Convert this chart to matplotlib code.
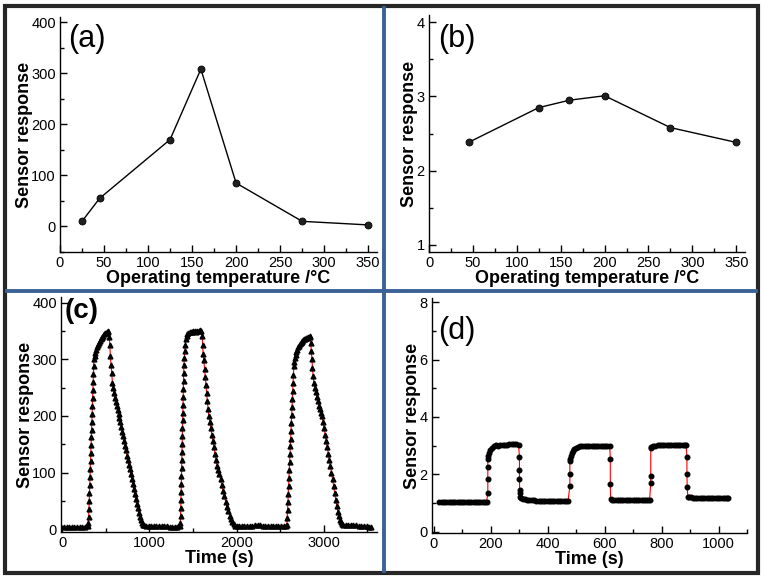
import numpy as np
import matplotlib
matplotlib.use('Agg')
import matplotlib.pyplot as plt
from matplotlib.ticker import MultipleLocator
from matplotlib.lines import Line2D
from matplotlib.patches import Rectangle

plt.rcParams['font.family'] = ['Liberation Sans', 'DejaVu Sans']

# (a) operating temperature vs response
temp_a = [25, 45, 125, 160, 200, 275, 350]
resp_a = [10, 55, 170, 308, 85, 10, 3]

# (b)
temp_b = [45, 125, 160, 200, 275, 350]
resp_b = [2.38, 2.85, 2.95, 3.01, 2.58, 2.38]

# (c) dynamic response, three cycles
time_c = [20, 50, 80, 110, 140, 170, 200, 230, 260, 290,
          300, 303, 306, 309, 312, 315, 318, 321, 324, 327, 330, 333, 336, 339, 342, 345, 348, 351, 354, 357, 360, 363,
          370, 380, 390, 400, 410, 420, 430, 440, 450, 460, 470, 480, 490, 500, 510, 520, 530,
          538, 545, 552, 560, 568, 576, 585, 595, 605, 615, 625, 635, 645, 655, 665, 676, 687, 698, 709, 720,
          731, 742, 753, 764, 775, 786, 797, 808, 819, 830, 841, 852, 864, 876, 888, 900, 912, 924, 936,
          960, 990, 1020, 1050, 1080, 1110, 1140, 1170, 1200, 1230, 1260, 1290, 1320, 1345,
          1355, 1357, 1359, 1361, 1363, 1365, 1367, 1369, 1371, 1373, 1375, 1377, 1379, 1381, 1383, 1385, 1387,
          1389, 1391, 1393, 1395,
          1400, 1406, 1412, 1418, 1425, 1433,
          1445, 1460, 1475, 1490, 1505, 1520, 1535, 1550, 1565, 1580, 1595,
          1605, 1610, 1616, 1624, 1632, 1640, 1648, 1656, 1664, 1672, 1681, 1692, 1704, 1716, 1728, 1740, 1752,
          1764, 1776, 1788, 1800, 1815, 1830, 1845, 1860, 1875, 1890, 1905, 1920, 1935, 1950, 1965, 1980,
          2000, 2030, 2060, 2090, 2120, 2150, 2180, 2210, 2240, 2270, 2300, 2330, 2360, 2390, 2420, 2450, 2480,
          2510, 2540, 2565,
          2576, 2580, 2584, 2588, 2592, 2596, 2600, 2604, 2608, 2612, 2616, 2620, 2624, 2628, 2632, 2636, 2640,
          2644, 2648, 2652, 2656,
          2662, 2670, 2678, 2686, 2695, 2705, 2715, 2725, 2735, 2745, 2755, 2765, 2775, 2788, 2800, 2812, 2824,
          2836, 2844,
          2850, 2856, 2862, 2870, 2878, 2886, 2898, 2910, 2922, 2934, 2946, 2958, 2969, 2980, 2992, 3004, 3016,
          3028, 3040, 3052, 3064, 3076, 3088, 3100, 3112, 3124, 3136, 3148, 3160, 3172, 3185, 3198, 3210, 3225,
          3250, 3280, 3310, 3340, 3370, 3400, 3430, 3460, 3490, 3520, 3545]
resp_c = [3, 4, 4, 4, 4, 4, 4, 4, 4, 5,
          10, 22, 36, 50, 64, 78, 92, 106, 120, 134, 148, 162, 176, 190, 204, 218, 232, 246, 260, 274, 288, 300,
          306, 312, 317, 321, 325, 329, 332, 335, 338, 340, 342, 344, 346, 347, 348, 349, 350,
          340, 325, 305, 290, 275, 258, 250, 240, 232, 225, 218, 211, 204, 197, 189, 181, 172, 164, 155, 147,
          139, 130, 122, 114, 106, 98, 89, 80, 71, 62, 53, 45, 37, 29, 22, 16, 11, 8, 7,
          6, 6, 6, 6, 5, 5, 5, 5, 5, 4, 4, 4, 4, 5,
          10, 24, 38, 52, 66, 80, 94, 108, 122, 136, 150, 164, 178, 192, 206, 220, 234,
          248, 262, 276, 290,
          302, 315, 326, 335, 341, 345,
          347, 348, 349, 349, 350, 350, 349, 350, 350, 351, 350,
          342, 325, 310, 298, 283, 268, 254, 240, 226, 213, 200, 190, 178, 166, 155, 145, 133,
          122, 112, 104, 98, 88, 78, 68, 58, 48, 40, 32, 24, 18, 13, 9, 6,
          5, 5, 5, 5, 5, 5, 6, 7, 7, 7, 6, 6, 5, 5, 5, 5, 5,
          5, 5, 6,
          8, 20, 34, 48, 62, 76, 90, 104, 118, 132, 146, 160, 174, 188, 202, 216, 230,
          244, 258, 272, 288,
          296, 302, 308, 313, 317, 321, 324, 327, 329, 331, 333, 334, 335, 336, 337, 338, 339,
          340, 341,
          328, 314, 300, 285, 270, 258, 250, 242, 234, 226, 218, 212, 206, 200, 189, 178, 167,
          156, 145, 133, 122, 111, 100, 88, 76, 64, 52, 41, 31, 23, 16, 12, 9, 8,
          8, 8, 7, 7, 7, 6, 6, 5, 5, 4, 3]

# (d) dynamic response
time_d = [20, 28, 36, 44, 52, 60, 68, 76, 84, 92, 100, 108, 116, 124, 132, 140, 148, 156, 164, 172, 180, 186,
          190, 190, 190, 190, 191, 193, 197, 203, 210,
          218, 226, 234, 242, 250, 258, 266, 274, 282, 290, 298,
          301, 301, 301, 302, 302, 303, 306, 312,
          320, 328, 336, 344, 352, 360, 368, 376, 384, 392, 400, 408, 416, 424, 432, 440, 448, 456, 464, 472,
          478, 478, 478, 479, 481, 484, 488, 493, 499, 506, 514,
          522, 530, 538, 546, 554, 562, 570, 578, 586, 594, 602, 610, 618,
          620, 620, 621,
          626, 634, 642, 650, 658, 666, 674, 682, 690, 698, 706, 714, 722, 730, 738, 746, 754, 758,
          762, 762, 762, 764, 770, 778,
          786, 794, 802, 810, 818, 826, 834, 842, 850, 858, 866, 874, 882, 886,
          889, 889, 890, 892, 896, 902,
          910, 918, 926, 934, 942, 950, 958, 966, 974, 982, 990, 998, 1006, 1014, 1022, 1030, 1034]
resp_d = [1.02, 1.03, 1.03, 1.03, 1.04, 1.04, 1.04, 1.04, 1.04, 1.04, 1.04, 1.04, 1.04, 1.04, 1.04, 1.04,
          1.04, 1.04, 1.04, 1.04, 1.04, 1.05,
          1.35, 1.85, 2.25, 2.55, 2.65, 2.75, 2.85, 2.92, 2.98,
          3.02, 3.0, 3.03, 3.03, 3.03, 3.03, 3.04, 3.04, 3.04, 3.04, 3.03,
          2.6, 2.15, 1.85, 1.45, 1.35, 1.22, 1.18, 1.15,
          1.12, 1.11, 1.1, 1.09, 1.09, 1.08, 1.08, 1.08, 1.08, 1.08, 1.08, 1.08, 1.08, 1.07, 1.07, 1.07, 1.07,
          1.07, 1.07, 1.08,
          1.6, 2.0, 2.45, 2.55, 2.65, 2.75, 2.82, 2.88, 2.93, 2.96, 2.98,
          2.99, 3.0, 3.0, 3.0, 3.0, 3.0, 3.0, 3.0, 3.0, 3.0, 3.0, 3.0, 3.0,
          2.55, 1.65, 1.12,
          1.11, 1.11, 1.11, 1.11, 1.11, 1.11, 1.11, 1.11, 1.11, 1.11, 1.11, 1.11, 1.11, 1.11, 1.11, 1.11,
          1.11, 1.11,
          1.7, 1.95, 2.9, 2.95, 2.97, 2.98,
          3.03, 3.03, 3.02, 3.02, 3.02, 3.02, 3.02, 3.02, 3.02, 3.02, 3.02, 3.02, 3.02, 3.02,
          2.6, 2.0, 1.55, 1.22, 1.2, 1.2,
          1.17, 1.16, 1.16, 1.16, 1.16, 1.16, 1.16, 1.16, 1.16, 1.16, 1.16, 1.16, 1.16, 1.16, 1.16, 1.16, 1.16]


def styleAxes(ax, xmaj, xmin, ymaj, ymin):
    ax.spines['top'].set_visible(False)
    ax.spines['right'].set_visible(False)
    ax.spines['left'].set_linewidth(1.0)
    ax.spines['bottom'].set_linewidth(1.0)
    ax.xaxis.set_major_locator(MultipleLocator(xmaj))
    ax.xaxis.set_minor_locator(MultipleLocator(xmin))
    ax.yaxis.set_major_locator(MultipleLocator(ymaj))
    ax.yaxis.set_minor_locator(MultipleLocator(ymin))
    ax.tick_params(which='major', direction='in', length=5, width=1,
                   labelsize=10.5, pad=3)
    ax.tick_params(which='minor', direction='in', length=3, width=1)
    ax.set_ylabel('Sensor response', fontsize=13, fontweight='bold', labelpad=-1)


fig = plt.figure(figsize=(7.65, 5.79), dpi=100)

ax_a = fig.add_axes([0.0784, 0.5648, 0.4144, 0.4058])
ax_b = fig.add_axes([0.5608, 0.5648, 0.4131, 0.4092])
ax_c = fig.add_axes([0.0797, 0.0812, 0.4131, 0.4058])
ax_d = fig.add_axes([0.5647, 0.0794, 0.4118, 0.4059])

marker_kw = dict(marker='o', markersize=5, markerfacecolor='#202020',
                 markeredgecolor='black', markeredgewidth=0.6)

ax_a.plot(temp_a, resp_a, color='black', lw=1, **marker_kw)
ax_a.set_xlim(0, 360)
ax_a.set_ylim(-50, 410)
styleAxes(ax_a, 50, 25, 100, 50)
ax_a.set_xlabel('Operating temperature /\u00b0C', fontsize=13, fontweight='bold', labelpad=0)

ax_b.plot(temp_b, resp_b, color='black', lw=1, **marker_kw)
ax_b.set_xlim(0, 360)
ax_b.set_ylim(0.9, 4.1)
styleAxes(ax_b, 50, 25, 1, 0.5)
ax_b.set_xlabel('Operating temperature /\u00b0C', fontsize=13, fontweight='bold', labelpad=0)

ax_c.plot(time_c, resp_c, color='red', lw=0.8, zorder=1)
ax_c.plot(time_c, resp_c, linestyle='none', marker='^', markersize=3.5,
          color='black', zorder=2)
ax_c.set_xlim(-15, 3610)
ax_c.set_ylim(-5, 410)
styleAxes(ax_c, 1000, 500, 100, 50)
ax_c.set_xlabel('Time (s)', fontsize=13, fontweight='bold', labelpad=0)

ax_d.plot(time_d, resp_d, color='red', lw=0.8, zorder=1)
ax_d.plot(time_d, resp_d, linestyle='none', marker='o', markersize=3.3,
          color='black', zorder=2)
ax_d.set_xlim(-6, 1100)
ax_d.set_ylim(-0.05, 8.15)
styleAxes(ax_d, 200, 100, 2, 1)
ax_d.set_xlabel('Time (s)', fontsize=13, fontweight='bold', labelpad=0)

# panel letters
fig.text(0.0889, 0.9326, '(a)', fontsize=22, ha='left', va='center')
fig.text(0.5725, 0.9326, '(b)', fontsize=22, ha='left', va='center')
fig.text(0.085, 0.4629, '(c)', fontsize=20, fontweight='bold', ha='left', va='center')
fig.text(0.5725, 0.4283, '(d)', fontsize=22, ha='left', va='center')

# frame around the composite and blue dividers
W, H = 765.0, 579.0
fig.add_artist(Rectangle((5 / W, 1 - 573 / H), (758 - 5) / W, (573 - 6) / H,
                         transform=fig.transFigure, fill=False,
                         edgecolor='#262626', linewidth=3.0))
fig.add_artist(Line2D([384 / W, 384 / W], [1 - 571 / H, 1 - 8 / H],
                      transform=fig.transFigure, color='#3b6296', linewidth=2.8))
fig.add_artist(Line2D([7 / W, 756 / W], [1 - 291 / H, 1 - 291 / H],
                      transform=fig.transFigure, color='#3b6296', linewidth=2.8))

fig.savefig('out.png', dpi=100)
